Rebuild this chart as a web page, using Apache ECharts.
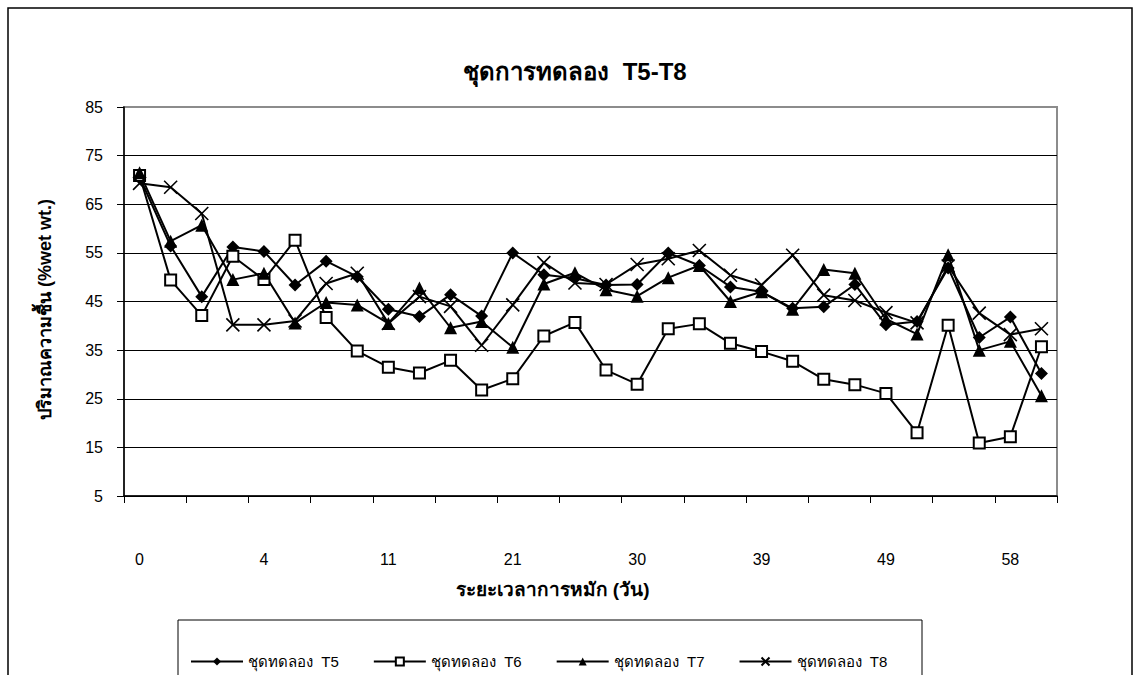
<!DOCTYPE html>
<html>
<head>
<meta charset="utf-8">
<script src="https://cdn.jsdelivr.net/npm/echarts@6/dist/echarts.min.js"></script>
<style>
html,body{margin:0;padding:0;background:#fff;}
#chart{width:1140px;height:675px;}
</style>
</head>
<body>
<div id="chart"></div>
<script>
var days = ['0','1','2','3','4','5','7','9','11','13','16','18','21','23','25','28','30','32','35','37','39','42','44','47','49','51','54','56','58','60'];
var seriesNames = ['ชุดทดลอง  T5','ชุดทดลอง  T6','ชุดทดลอง  T7','ชุดทดลอง  T8'];
var t5 = [70.6,56.4,46.0,56.2,55.3,48.4,53.3,50.1,43.4,41.9,46.4,42.0,55.0,50.5,49.8,48.4,48.5,55.0,52.4,48.0,47.0,43.6,43.9,48.5,40.2,40.9,51.9,37.6,41.8,30.2];
var t6 = [70.9,49.4,42.1,54.3,49.5,57.6,41.7,34.8,31.5,30.3,32.9,26.8,29.1,37.9,40.7,30.9,28.0,39.4,40.4,36.4,34.7,32.7,29.0,27.9,26.1,18.0,40.1,15.9,17.2,35.7];
var t7 = [71.5,57.4,60.7,49.5,50.8,40.6,44.8,44.3,40.5,47.8,39.6,40.9,35.6,48.6,50.9,47.4,46.1,49.9,52.4,45.0,47.0,43.4,51.6,50.8,41.4,38.3,54.6,35.0,36.8,25.6];
var t8 = [69.3,68.5,63.1,40.2,40.2,41.0,48.7,50.8,40.5,46.0,44.0,36.0,44.3,53.0,48.8,48.5,52.6,53.8,55.5,50.4,48.4,54.5,46.3,45.2,42.7,40.6,52.3,42.6,38.2,39.4];
var chartTitle = 'ชุดการทดลอง  T5-T8';
var xTitle = 'ระยะเวลาการหมัก (วัน)';
var yTitle = 'ปริมาณความชื้น (%wet wt.)';

var FONT = 'Liberation Sans, Arial, Noto Sans, sans-serif';
var chart = echarts.init(document.getElementById('chart'), null, {renderer: 'svg'});
var xPath = 'path://M0,0 L10,10 M10,0 L0,10';

function mk(name, data, symbol, size, itemStyle) {
  return {
    name: name, type: 'line', data: data,
    symbol: symbol, symbolSize: size, showSymbol: true,
    lineStyle: {color: '#000', width: 2},
    itemStyle: itemStyle,
    emphasis: {disabled: true},
    animation: false
  };
}

var option = {
  animation: false,
  backgroundColor: '#fff',
  textStyle: {fontFamily: FONT, color: '#000'},
  title: [{
    text: chartTitle, left: 570, top: 54, textAlign: 'center',
    textStyle: {fontSize: 24, fontWeight: 'bold', color: '#000', fontFamily: FONT}
  }],
  grid: {left: 124, right: 83, top: 107, bottom: 179, show: true, borderColor: '#8c8c8c', borderWidth: 2, backgroundColor: 'transparent'},
  legend: {
    left: 185, top: 649, itemWidth: 52, itemHeight: 10, itemGap: 34,
    textStyle: {fontSize: 15, color: '#000', fontFamily: FONT, width: 92},
    data: seriesNames
  },
  xAxis: {
    type: 'category', data: days, boundaryGap: true,
    name: xTitle, nameLocation: 'middle', nameGap: 84,
    nameTextStyle: {fontSize: 19, fontWeight: 'bold', color: '#000', fontFamily: FONT, padding: [0, 76, 0, 0]},
    axisLine: {lineStyle: {color: '#000', width: 1.5}},
    axisTick: {show: true, interval: 1, length: 7, lineStyle: {color: '#000'}},
    axisLabel: {interval: 3, margin: 55, fontSize: 16, color: '#000', fontFamily: FONT},
    splitLine: {show: false}
  },
  yAxis: {
    type: 'value', min: 5, max: 85, interval: 10,
    name: yTitle, nameLocation: 'middle', nameGap: 70, nameRotate: 90,
    nameTextStyle: {fontSize: 18, fontWeight: 'bold', color: '#000', fontFamily: FONT, padding: [0, 16, 0, 0]},
    axisLine: {show: true, lineStyle: {color: '#000', width: 1.5}},
    axisTick: {show: true, length: 7, lineStyle: {color: '#000'}},
    axisLabel: {margin: 21, fontSize: 16, color: '#000', fontFamily: FONT, padding: [8, 0, 0, 0]},
    splitLine: {show: true, lineStyle: {color: ['#000','#000','#000','#000','#000','#000','#000','#000','#8c8c8c'], width: 1}}
  },
  graphic: [
    {type: 'rect', shape: {x: 8, y: 8, width: 1124, height: 720}, style: {fill: 'none', stroke: '#000', lineWidth: 1.5}, silent: true},
    {type: 'rect', shape: {x: 178, y: 620, width: 744, height: 100}, style: {fill: 'none', stroke: '#000', lineWidth: 1}, silent: true}
  ],
  series: [
    mk(seriesNames[0], t5, 'diamond', 13, {color: '#000'}),
    mk(seriesNames[1], t6, 'rect', 11, {color: '#fff', borderColor: '#000', borderWidth: 2}),
    mk(seriesNames[2], t7, 'triangle', 13, {color: '#000'}),
    mk(seriesNames[3], t8, xPath, 13, {color: '#000', borderColor: '#000', borderWidth: 1.6})
  ]
};
chart.setOption(option);
</script>
</body>
</html>
